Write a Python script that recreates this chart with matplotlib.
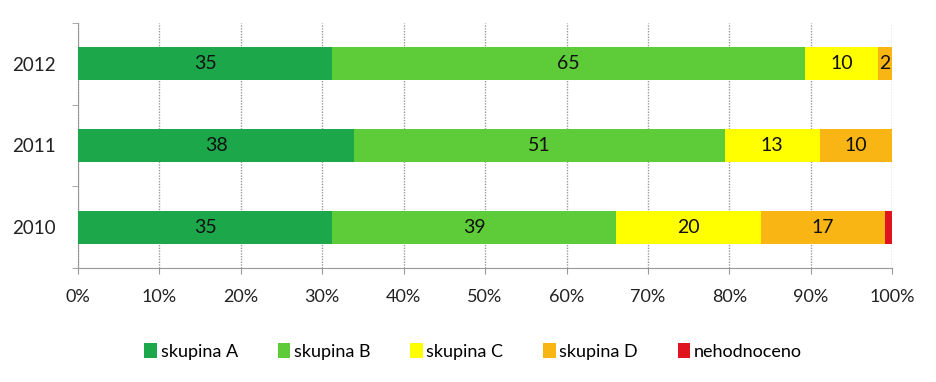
import matplotlib
matplotlib.use("Agg")
import matplotlib.pyplot as plt
import numpy as np

years = ["2010", "2011", "2012"]
series_names = ["skupina A", "skupina B", "skupina C", "skupina D", "nehodnoceno"]
skupina_a = [35, 38, 35]
skupina_b = [39, 51, 65]
skupina_c = [20, 13, 10]
skupina_d = [17, 10, 2]
nehodnoceno = [1, 0, 0]
colors = ["#1CA74B", "#5ECB38", "#FFFF00", "#F8B514", "#E0141E"]
x_ticks = [0, 10, 20, 30, 40, 50, 60, 70, 80, 90, 100]

plt.rcParams['font.family'] = ['Lato', 'DejaVu Sans']

fig = plt.figure(figsize=(9.37, 3.82), dpi=100)
ax = fig.add_axes([0.0832, 0.2984, 0.869, 0.6416])

data = np.array([skupina_a, skupina_b, skupina_c, skupina_d, nehodnoceno], dtype=float)
totals = data.sum(axis=0)
pct = data / totals * 100
y = np.arange(len(years))
left = np.zeros(len(years))
for i, name in enumerate(series_names):
    ax.barh(y, pct[i], left=left, height=0.4, color=colors[i], label=name,
            edgecolor='none', zorder=3)
    for j in range(len(years)):
        v = data[i, j]
        if v >= 2:
            ax.text(left[j] + pct[i, j] / 2, y[j], f"{int(v)}", ha='center', va='center',
                    fontsize=14, color='#111111', zorder=4)
    left += pct[i]

ax.set_xlim(0, 100)
ax.set_ylim(-0.5, 2.5)
ax.set_xticks(x_ticks)
ax.set_xticklabels([f"{t}%" for t in x_ticks], fontsize=13, color='#222222')
ax.set_yticks(y)
ax.set_yticklabels(years, fontsize=13.5, color='#222222')
ax.set_yticks([-0.5, 0.5, 1.5, 2.5], minor=True)
ax.tick_params(axis='y', which='major', length=0, pad=16)
ax.tick_params(axis='y', which='minor', length=4, color='#999999')
ax.tick_params(axis='x', which='major', length=4, color='#999999', pad=11)
ax.xaxis.grid(True, linestyle=(0, (1, 1)), color='#999999', linewidth=1, zorder=0)
for s in ['top', 'right']:
    ax.spines[s].set_visible(False)
for s in ['left', 'bottom']:
    ax.spines[s].set_color('#999999')
    ax.spines[s].set_linestyle((0, (1, 1)))

fig.legend(loc='center', bbox_to_anchor=(0.505, 0.08), ncol=5, frameon=False,
           fontsize=13, handlelength=0.7, handleheight=0.9, handletextpad=0.2,
           columnspacing=2.2)

fig.savefig("out.png", dpi=100)
